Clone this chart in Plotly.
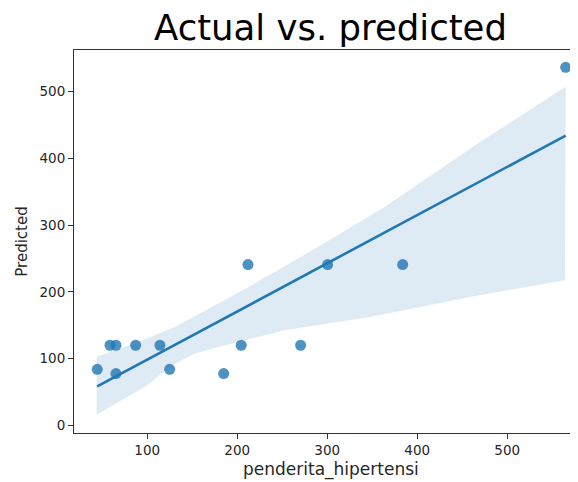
import numpy as np
import plotly.graph_objects as go

# Data
actual = [44.4, 58.6, 65.2, 87.1, 114.1, 65.2, 124.9, 184.9, 204.4, 211.9, 270.4, 300.4, 383.8, 564.9]
predicted = [84, 120, 120, 120, 120, 77.5, 84, 77.5, 120, 241, 120, 241, 241, 536.5]

# Confidence band edges
band_upper_x = [43.8, 86.3, 130.8, 178.9, 216, 290, 364.1, 469.7, 564.9]
band_upper_y = [102.7, 123, 147.5, 182.5, 210, 267.5, 327.5, 424.5, 507.5]
band_lower_x = [43.8, 67.8, 97.4, 116, 134.4, 153, 178.9, 216, 253, 347.4, 458.6, 564.1]
band_lower_y = [16, 35, 57.5, 77.5, 95, 107.5, 117.5, 130, 142.5, 162.5, 192.5, 217.5]

x_ticks = [100, 200, 300, 400, 500]
y_ticks = [0, 100, 200, 300, 400, 500]

# Regression line fitted from the data
slope, intercept = np.polyfit(actual, predicted, 1)
line_x = np.array([min(actual), max(actual)])
line_y = slope * line_x + intercept

C0 = "31,119,180"

fig = go.Figure()
fig.add_trace(go.Scatter(
    x=band_upper_x + band_lower_x[::-1],
    y=band_upper_y + band_lower_y[::-1],
    fill="toself", fillcolor=f"rgba({C0},0.15)",
    line=dict(width=0), mode="lines", hoverinfo="skip", showlegend=False))
fig.add_trace(go.Scatter(
    x=actual, y=predicted, mode="markers",
    marker=dict(size=11, color=f"rgba({C0},0.8)", line=dict(width=0)),
    showlegend=False))
fig.add_trace(go.Scatter(
    x=line_x, y=line_y, mode="lines",
    line=dict(color=f"rgb({C0})", width=2.6), showlegend=False))

axis_common = dict(
    showgrid=False, zeroline=False, showline=True, linecolor="#333333", linewidth=1,
    ticks="outside", ticklen=5, tickwidth=1, tickcolor="#333333", automargin=False,
    tickfont=dict(family="DejaVu Sans", size=13.5, color="#262626"),
)

W, H = 570, 474  # page body has an 8px margin
fig.update_layout(
    width=W, height=H,
    margin=dict(l=66, r=0, t=42, b=49, autoexpand=False),
    paper_bgcolor="white", plot_bgcolor="white",
    title=dict(text="Actual vs. predicted", x=322.5 / W, xanchor="center",
               y=1 - 20 / H, yanchor="middle", yref="container",
               font=dict(family="DejaVu Sans", size=35.5, color="black")),
    xaxis=dict(range=[18.6, 578.6], tickvals=x_ticks, mirror=True,
               **axis_common),
    yaxis=dict(range=[-11.5, 562.5], tickvals=y_ticks,
               title=dict(text="Predicted", standoff=8,
                          font=dict(family="DejaVu Sans", size=15, color="#262626")),
               **axis_common),
    annotations=[dict(text="penderita_hipertensi", xref="paper", yref="paper",
                      x=(323 - 66) / 504, y=0, xanchor="center", yanchor="middle",
                      yshift=-36.5, showarrow=False,
                      font=dict(family="DejaVu Sans", size=17, color="#262626"))],
)

fig.write_html("out.html")
